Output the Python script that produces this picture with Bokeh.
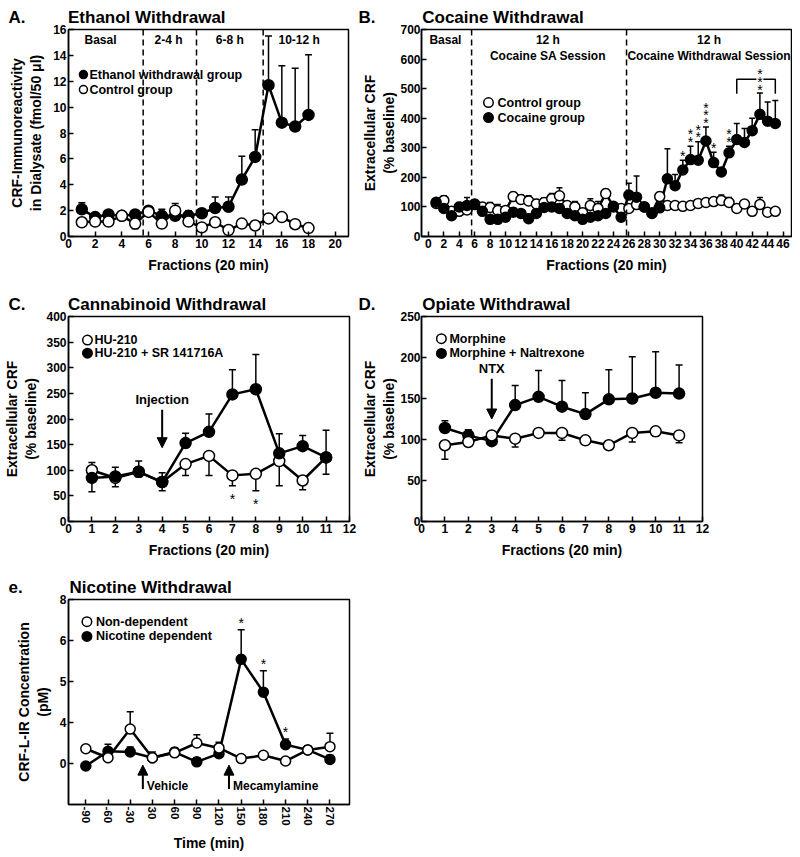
import numpy as np
from bokeh.plotting import figure
from bokeh.models import (ColumnDataSource, Whisker, TeeHead, Span,
                          FixedTicker, Arrow, NormalHead, Range1d)
from bokeh.layouts import column, row
from bokeh.embed import file_html
from bokeh.resources import INLINE
from bokeh.core.properties import value

FONT = "Liberation Sans"

# ---------------- Panel A: Ethanol withdrawal ----------------
eth_fraction = list(range(1, 19))
eth_withdrawal = [2.1, 1.5, 1.7, 1.6, 1.7, 2.0, 1.6, 1.6, 1.6, 1.8, 2.2, 2.3, 4.4, 6.15, 11.7, 8.8, 8.5, 9.4]
eth_withdrawal_sem = [0.5, 0.3, 0.3, 0.2, 0.2, 0.3, 0.5, 0.4, 0.4, 0.3, 0.85, 0.75, 1.8, 2.1, 3.8, 4.4, 4.5, 4.65]
eth_control = [1.1, 1.15, 1.15, 1.6, 1.0, 1.9, 1.0, 2.0, 1.15, 0.7, 1.1, 0.5, 1.0, 0.85, 1.4, 1.5, 0.95, 0.65]
eth_control_sem = [0.15, 0.15, 0.15, 0.15, 0.4, 0.15, 0.2, 0.55, 0.15, 0.2, 0.1, 0.1, 0.1, 0.1, 0.15, 0.1, 0.15, 0.1]
eth_dividers = [5.6, 9.6, 14.6]
eth_period_labels = ["Basal", "2-4 h", "6-8 h", "10-12 h"]
eth_period_x = [2.4, 7.5, 12.1, 17.3]
eth_legend_labels = ["Ethanol withdrawal group", "Control group"]

# ---------------- Panel B: Cocaine withdrawal ----------------
coc_fraction = list(range(1, 46))
coc_cocaine = [116, 95, 70, 100, 105, 108, 85, 58, 58, 65, 82, 78, 60, 78, 98, 100, 95, 78, 70, 58,
               65, 70, 78, 100, 65, 140, 133, 100, 78, 97, 195, 172, 225, 260, 258, 323, 250, 218, 283, 328,
               318, 358, 413, 390, 382]
coc_cocaine_sem = [10, 12, 10, 15, 27, 15, 12, 10, 10, 10, 15, 12, 15, 12, 15, 15, 15, 12, 10, 10,
                   12, 10, 12, 15, 12, 40, 72, 15, 10, 15, 102, 38, 33, 45, 62, 47, 35, 12, 22, 54,
                   47, 42, 72, 65, 78]
coc_control = [112, 122, 85, 85, 90, 110, 100, 98, 88, 88, 135, 125, 120, 110, 115, 128, 138, 105, 100, 80,
               105, 95, 145, 102, 95, 95, 108, 100, 80, 135, 105, 105, 102, 105, 112, 115, 118, 122, 115, 95,
               110, 85, 108, 82, 85]
coc_control_sem = [10, 16, 10, 10, 12, 10, 12, 17, 20, 12, 15, 15, 18, 15, 15, 17, 27, 10, 18, 15,
                   23, 23, 15, 10, 10, 10, 10, 10, 10, 15, 8, 8, 8, 8, 8, 8, 8, 18, 17, 8,
                   12, 8, 24, 8, 8]
coc_dividers = [5.6, 25.7]
coc_period_line1 = ["Basal", "12 h", "12 h"]
coc_period_line2 = ["", "Cocaine SA Session", "Cocaine Withdrawal Session"]
coc_period_x = [2.2, 15.5, 36.4]
coc_star_fraction = [33, 34, 35, 36, 37, 39]
coc_star_count = [1, 2, 2, 3, 1, 2]
coc_bracket_from, coc_bracket_to, coc_bracket_star_fraction = 40, 45, 43
coc_legend_labels = ["Control group", "Cocaine group"]

# ---------------- Panel C: Cannabinoid withdrawal ----------------
can_fraction = list(range(1, 12))
can_hu210 = [100, 85, 97, 77, 112, 128, 90, 93, 118, 80, 125]
can_hu210_sem = [42, 17, 10, 17, 22, 38, 20, 33, 48, 18, 33]
can_hu210_sr = [85, 88, 97, 77, 153, 175, 248, 258, 133, 147, 125]
can_hu210_sr_sem = [30, 18, 21, 18, 19, 35, 48, 68, 38, 21, 53]
can_star_fraction = [7, 8]
can_injection_fraction = 4
can_legend_labels = ["HU-210", "HU-210 + SR 141716A"]

# ---------------- Panel D: Opiate withdrawal ----------------
opi_fraction = list(range(1, 12))
opi_morphine = [93, 97, 105, 101, 108, 108, 99, 93, 108, 110, 105]
opi_morphine_sem = [17, 4, 5, 10, 5, 9, 3, 3, 11, 6, 9]
opi_naltrexone = [114, 105, 98, 142, 152, 140, 131, 149, 150, 157, 156]
opi_naltrexone_sem = [9, 7, 7, 24, 32, 32, 26, 36, 51, 50, 35]
opi_ntx_fraction = 3
opi_legend_labels = ["Morphine", "Morphine + Naltrexone"]

# ---------------- Panel E: Nicotine withdrawal ----------------
nic_time_labels = ["-90", "-60", "-30", "30", "60", "90", "120", "150", "180", "210", "240", "270"]
nic_y_tick_labels = ["0", "4", "5", "6", "8"]
nic_nondep = [0.36, 0.14, 0.84, 0.14, 0.26, 0.50, 0.38, 0.12, 0.20, 0.06, 0.33, 0.41]
nic_nondep_sem = [0.05, 0.05, 0.42, 0.14, 0.10, 0.20, 0.14, 0.05, 0.08, 0.05, 0.10, 0.33]
nic_dep = [-0.06, 0.30, 0.28, 0.14, 0.28, 0.04, 0.24, 2.54, 1.74, 0.46, 0.33, 0.10]
nic_dep_sem = [0.05, 0.17, 0.12, 0.10, 0.10, 0.10, 0.12, 0.72, 0.52, 0.14, 0.10, 0.10]
nic_star_index = [7, 8, 9]
nic_vehicle_pos = 2.57
nic_mecamylamine_pos = 6.45
nic_legend_labels = ["Non-dependent", "Nicotine dependent"]

# spacing characters between panel letter and panel title (not collapsed in SVG)
GAP_43 = "\u2003\u2003\u2002"
GAP_47 = "\u2003\u2003\u2002\u2005"


def make_fig(w, h, bl, br, bt, bb, xr, yr, xticks, yticks, ylab_standoff=6, ytick_standoff=2):
    p = figure(width=w, height=h, x_range=Range1d(*xr), y_range=Range1d(*yr),
               output_backend="svg", toolbar_location=None,
               min_border_left=bl, min_border_right=br, min_border_top=bt, min_border_bottom=bb)
    p.grid.visible = False
    p.outline_line_color = "black"
    p.outline_line_width = 1.5
    p.xaxis.ticker = FixedTicker(ticks=xticks)
    p.yaxis.ticker = FixedTicker(ticks=yticks)
    for ax in (p.xaxis[0], p.yaxis[0]):
        ax.axis_line_width = 1.5
        ax.major_tick_in = 5
        ax.major_tick_out = 0
        ax.major_tick_line_width = 1.5
        ax.minor_tick_line_color = None
        ax.major_label_text_font = FONT
        ax.major_label_text_font_style = "bold"
        ax.major_label_text_font_size = "12px"
        ax.major_label_text_color = "black"
        ax.major_label_standoff = 2
        ax.axis_label_text_font = FONT
        ax.axis_label_text_font_style = "bold"
        ax.axis_label_text_font_size = "14px"
        ax.axis_label_text_color = "black"
        ax.axis_label_standoff = 6
    p.yaxis.axis_label_standoff = ylab_standoff
    p.yaxis.major_label_standoff = ytick_standoff
    return p


def set_title(p, letter, gap, title, left_px):
    p.title.text = letter + gap + title
    p.title.align = "left"
    p.title.offset = -left_px
    p.title.standoff = 5
    p.title.text_font = FONT
    p.title.text_font_style = "bold"
    p.title.text_font_size = "17px"
    p.title.text_color = "black"


def add_err(p, x, y, sem, direction, cap=7):
    y = np.asarray(y, dtype=float)
    s = np.asarray(sem, dtype=float)
    up = y + s if direction in ("up", "both") else y
    lo = y - s if direction in ("down", "both") else y
    src = ColumnDataSource(dict(base=list(x), upper=up, lower=lo))
    p.add_layout(Whisker(source=src, base="base", upper="upper", lower="lower", dimension="height",
                         line_color="black", line_width=1.5, level="underlay",
                         upper_head=TeeHead(size=cap, line_width=1.5) if direction in ("up", "both") else None,
                         lower_head=TeeHead(size=cap, line_width=1.5) if direction in ("down", "both") else None))


def add_line(p, x, y, lw=2.5):
    p.line(list(x), list(y), line_color="black", line_width=lw)


def add_markers(p, x, y, filled, size):
    return p.scatter(list(x), list(y), marker="circle", size=size, line_color="black", line_width=1.5,
                     fill_color="black" if filled else "white")


def add_key(p, x, ys, labels, fills, size, dx):
    """legend key: marker + bold label per row"""
    p.scatter([x] * len(ys), list(ys), marker="circle", size=size, line_color="black",
              line_width=1.5, fill_color=list(fills))
    p.text(x=[x] * len(ys), y=list(ys), text=list(labels), x_offset=dx, text_font=value(FONT),
           text_font_style="bold", text_font_size="12.5px", text_align="left",
           text_baseline="middle", text_color="black")


def add_text(p, x, y, texts, size="12px", align="center", baseline="middle", y_offset=0):
    p.text(x=list(x), y=list(y), text=list(texts), text_font=value(FONT), text_font_style="bold",
           text_font_size=size, text_align=align, text_baseline=baseline, y_offset=y_offset,
           text_color="black")


def add_stars(p, x, y, y_offset):
    p.text(x=list(x), y=list(y), text=["*"] * len(list(x)), text_font=value(FONT),
           text_font_size="14px", text_align="center", text_baseline="middle",
           y_offset=y_offset, text_color="black")


def add_arrow(p, x, y_from, y_to):
    p.add_layout(Arrow(end=NormalHead(size=10, fill_color="black", line_color="black", line_width=1),
                       x_start=x, y_start=y_from, x_end=x, y_end=y_to,
                       line_color="black", line_width=2))


# ================= Panel A =================
pA = make_fig(358, 290, 68, 10, 29, 54, (0, 21), (0, 16), list(range(0, 21, 2)), list(range(0, 17, 2)))
pA.xaxis.axis_label = "Fractions (20 min)"
pA.yaxis.axis_label = "CRF-Immunoreactivity\nin Dialysate (fmol/50 \u03bcl)"
set_title(pA, "A.", GAP_43, "Ethanol Withdrawal", 60)
for d in eth_dividers:
    pA.add_layout(Span(location=d, dimension="height", line_color="black", line_width=1.5, line_dash="6 4"))
add_text(pA, eth_period_x, [15.15] * len(eth_period_x), eth_period_labels)
add_err(pA, eth_fraction, eth_withdrawal, eth_withdrawal_sem, "up")
add_err(pA, eth_fraction, eth_control, eth_control_sem, "both")
add_line(pA, eth_fraction, eth_withdrawal)
add_line(pA, eth_fraction, eth_control)
add_markers(pA, eth_fraction, eth_withdrawal, True, 11)
add_markers(pA, eth_fraction, eth_control, False, 11)
add_key(pA, 1.12, [12.52, 11.36], eth_legend_labels, ["black", "white"], 8, 6)

# ================= Panel B =================
pB = make_fig(434, 290, 63, 1, 29, 54, (-0.9, 47.1), (0, 700), list(range(0, 47, 2)), list(range(0, 701, 100)),
              ylab_standoff=0, ytick_standoff=1)
pB.xaxis.axis_label = "Fractions (20 min)"
pB.yaxis.axis_label = "Extracellular CRF\n(% baseline)"
set_title(pB, "B.", GAP_47, "Cocaine Withdrawal", 63)
for d in coc_dividers:
    pB.add_layout(Span(location=d, dimension="height", line_color="black", line_width=1.5, line_dash="6 4"))
add_text(pB, coc_period_x, [666] * 3, coc_period_line1)
add_text(pB, coc_period_x[1:], [612] * 2, coc_period_line2[1:])
add_err(pB, coc_fraction, coc_cocaine, coc_cocaine_sem, "up", cap=6)
add_err(pB, coc_fraction, coc_control, coc_control_sem, "up", cap=6)
add_line(pB, coc_fraction, coc_control)
add_line(pB, coc_fraction, coc_cocaine)
add_markers(pB, coc_fraction, coc_control, False, 10)
add_markers(pB, coc_fraction, coc_cocaine, True, 10)
add_key(pB, 7.79, [453, 402], coc_legend_labels, ["white", "black"], 9.5, 9)
sx, sy, so = [], [], []
for f, n in zip(coc_star_fraction, coc_star_count):
    i = coc_fraction.index(f)
    for k in range(n):
        sx.append(f)
        sy.append(coc_cocaine[i] + coc_cocaine_sem[i])
        so.append(-7.5 * (k + 1) + 3)
add_stars(pB, sx, sy, so)
ib = coc_fraction.index(coc_bracket_star_fraction)
bracket_top = coc_cocaine[ib] + coc_cocaine_sem[ib] + 47
bracket_low = bracket_top - 49
pB.multi_line(xs=[[coc_bracket_from, coc_bracket_from, coc_bracket_star_fraction - 0.45],
                  [coc_bracket_star_fraction + 0.45, coc_bracket_to, coc_bracket_to]],
              ys=[[bracket_low, bracket_top, bracket_top], [bracket_top, bracket_top, bracket_low]],
              line_color="black", line_width=1.5)
add_stars(pB, [coc_bracket_star_fraction] * 3, [bracket_top] * 3, [-7.7 + 3, 3, 7.7 + 3])

# ================= Panel C =================
pC = make_fig(358, 282, 68, 9, 24, 51, (0, 12), (0, 400), list(range(0, 13)), list(range(0, 401, 50)),
              ylab_standoff=4, ytick_standoff=2)
pC.xaxis.axis_label = "Fractions (20 min)"
pC.yaxis.axis_label = "Extracellular CRF\n(% baseline)"
set_title(pC, "C.", GAP_43, "Cannabinoid Withdrawal", 60)
add_err(pC, can_fraction, can_hu210, can_hu210_sem, "down")
add_err(pC, can_fraction, can_hu210_sr, can_hu210_sr_sem, "up")
add_line(pC, can_fraction, can_hu210)
add_line(pC, can_fraction, can_hu210_sr)
add_markers(pC, can_fraction, can_hu210, False, 11)
add_markers(pC, can_fraction, can_hu210_sr, True, 11)
add_key(pC, 0.81, [354, 328.5], can_legend_labels, ["white", "black"], 9.5, 7)
ci = [can_fraction.index(f) for f in can_star_fraction]
add_stars(pC, can_star_fraction, [can_hu210[i] - can_hu210_sem[i] for i in ci], 10 + 3)
add_arrow(pC, can_injection_fraction, 218, 144)
add_text(pC, [can_injection_fraction], [239], ["Injection"], size="13px")

# ================= Panel D =================
pD = make_fig(434, 282, 63, 90, 24, 51, (0, 12), (0, 250), list(range(0, 13)), list(range(0, 251, 50)),
              ylab_standoff=0, ytick_standoff=1)
pD.xaxis.axis_label = "Fractions (20 min)"
pD.yaxis.axis_label = "Extracellular CRF\n(% baseline)"
set_title(pD, "D.", GAP_47, "Opiate Withdrawal", 63)
add_err(pD, opi_fraction, opi_morphine, opi_morphine_sem, "down")
add_err(pD, opi_fraction, opi_naltrexone, opi_naltrexone_sem, "up")
add_line(pD, opi_fraction, opi_morphine)
add_line(pD, opi_fraction, opi_naltrexone)
add_markers(pD, opi_fraction, opi_naltrexone, True, 11)
add_markers(pD, opi_fraction, opi_morphine, False, 11)
add_key(pD, 0.85, [223, 205], opi_legend_labels, ["white", "black"], 9.5, 8)
add_arrow(pD, opi_ntx_fraction, 174, 125)
add_text(pD, [opi_ntx_fraction], [186], ["NTX"], size="13px")

# ================= Panel E =================
nic_idx = list(range(len(nic_time_labels)))
pE = make_fig(358, 281, 68, 9, 27, 46, (-0.78, 11.88), (-1, 4), nic_idx, list(range(len(nic_y_tick_labels))))
pE.xaxis.major_label_overrides = {i: t for i, t in enumerate(nic_time_labels)}
pE.yaxis.major_label_overrides = {i: t for i, t in enumerate(nic_y_tick_labels)}
pE.xaxis.major_label_orientation = "vertical"
pE.xaxis.major_label_text_font_size = "11.5px"
pE.xaxis.axis_label_standoff = 6
pE.xaxis.axis_label = "Time (min)"
pE.yaxis.axis_label = "CRF-L-IR Concentration\n(pM)"
set_title(pE, "e.", GAP_47, "Nicotine Withdrawal", 60)
add_err(pE, nic_idx, nic_nondep, nic_nondep_sem, "up")
add_err(pE, nic_idx, nic_dep, nic_dep_sem, "up")
add_line(pE, nic_idx, nic_dep)
add_line(pE, nic_idx, nic_nondep)
add_markers(pE, nic_idx, nic_dep, True, 10)
add_markers(pE, nic_idx, nic_nondep, False, 10)
add_key(pE, 0.05, [3.46, 3.1], nic_legend_labels, ["white", "black"], 9.5, 9)
add_stars(pE, nic_star_index, [nic_dep[i] + nic_dep_sem[i] for i in nic_star_index], -10 + 3)
add_arrow(pE, nic_vehicle_pos, -0.62, -0.04)
add_arrow(pE, nic_mecamylamine_pos, -0.62, -0.04)
add_text(pE, [nic_vehicle_pos + 0.18, nic_mecamylamine_pos + 0.18], [-0.56, -0.56],
         ["Vehicle", "Mecamylamine"], size="12px", align="left")

layout = column(row(pA, pB), row(pC, pD), row(pE))
open("out.html", "w").write(file_html(layout, INLINE))
